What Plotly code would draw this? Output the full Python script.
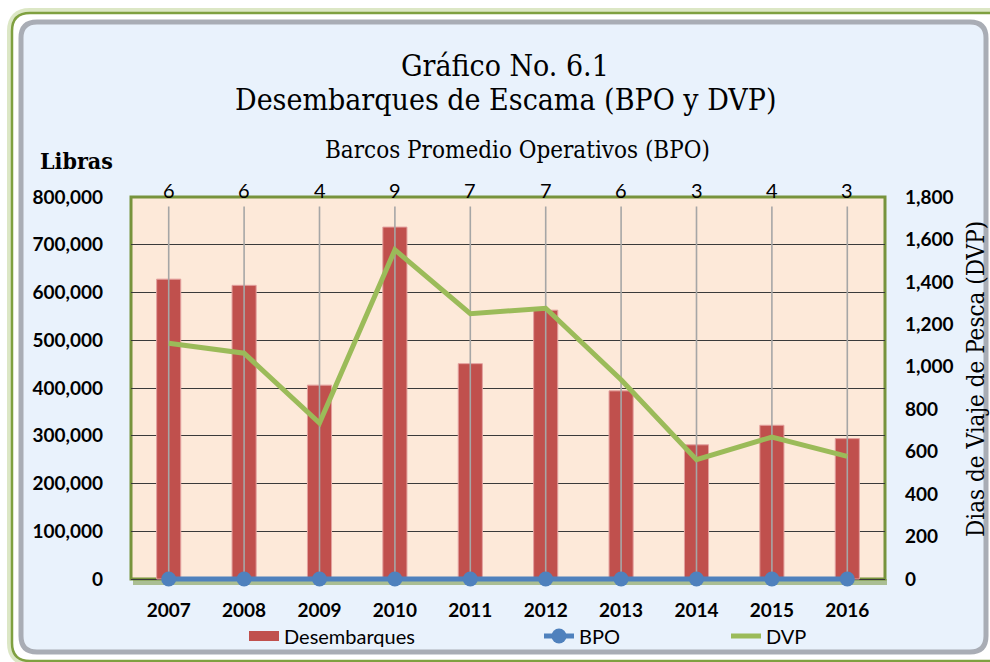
import plotly.graph_objects as go

# ---- data ----
years = ["2007", "2008", "2009", "2010", "2011", "2012", "2013", "2014", "2015", "2016"]
desembarques = [628000, 615000, 406000, 737000, 451000, 563000, 394000, 281000, 322000, 294000]
bpo = [6, 6, 4, 9, 7, 7, 6, 3, 4, 3]
dvp = [1111, 1064, 735, 1551, 1250, 1276, 939, 562, 669, 578]

left_ticks = [0, 100000, 200000, 300000, 400000, 500000, 600000, 700000, 800000]
right_ticks = [0, 200, 400, 600, 800, 1000, 1200, 1400, 1600, 1800]

xpos = list(range(len(years)))  # category slots

# ---- geometry helpers (pixel -> paper) ----
FW, FH = 990, 662
L, R, T = 131, 885, 197
ZERO = 579          # pixel row of the value 0
B = ZERO + 4        # plot area extends a little below 0 so the BPO line is not clipped
PW, PH = R - L, B - T
EXT = (B - ZERO) / (ZERO - T)  # fraction of range below zero


def fx(px):
    return (px - L) / PW


def fy(py):
    return (B - py) / PH


def rrect(x0, y0, x1, y1, r):
    def P(x, y):
        return f"{fx(x):.5f},{fy(y):.5f}"
    return (f"M {P(x0 + r, y0)} L {P(x1 - r, y0)} Q {P(x1, y0)} {P(x1, y0 + r)} "
            f"L {P(x1, y1 - r)} Q {P(x1, y1)} {P(x1 - r, y1)} "
            f"L {P(x0 + r, y1)} Q {P(x0, y1)} {P(x0, y1 - r)} "
            f"L {P(x0, y0 + r)} Q {P(x0, y0)} {P(x0 + r, y0)} Z")


SANS = "Lato"
SERIF = "DejaVu Serif Condensed, DejaVu Serif, serif"
RED, BLUE, GREEN = "#C0504D", "#4F81BD", "#9BBB59"

fig = go.Figure()

fig.add_trace(go.Bar(
    x=xpos, y=desembarques, name="Desembarques",
    marker=dict(color=RED, line=dict(color="#E3A19F", width=1)),
    width=0.32, yaxis="y", showlegend=False,
))
# legend entry for the bars (wide rectangle like the original key)
fig.add_trace(go.Scatter(
    x=[None], y=[None], mode="lines", name="Desembarques",
    line=dict(color=RED, width=14), legend="legend", hoverinfo="skip",
))

# gray drop lines from each BPO point (error bars of an invisible trace)
LINE_TOP = 780000
fig.add_trace(go.Scatter(
    x=xpos, y=[0] * len(xpos), mode="markers", marker=dict(size=1, opacity=0),
    error_y=dict(type="data", symmetric=False, array=[LINE_TOP] * len(xpos),
                 arrayminus=[0] * len(xpos), color="#A6A6A6", thickness=1.6, width=0),
    showlegend=False, hoverinfo="skip", yaxis="y",
))

fig.add_trace(go.Scatter(
    x=xpos, y=dvp, name="DVP", mode="lines",
    line=dict(color=GREEN, width=5), yaxis="y2", legend="legend3",
))

fig.add_trace(go.Scatter(
    x=xpos, y=bpo, name="BPO", mode="lines+markers",
    line=dict(color=BLUE, width=5),
    marker=dict(color=BLUE, size=15), yaxis="y", legend="legend2",
    cliponaxis=False,
))

shapes = [
    dict(type="path", xref="paper", yref="paper", layer="below",
         path=rrect(12, 13, 1010, 661, 18),
         line=dict(color="rgba(155,187,89,0.35)", width=10), fillcolor="rgba(0,0,0,0)"),
    dict(type="path", xref="paper", yref="paper", layer="below",
         path=rrect(12, 13, 1010, 661, 18),
         line=dict(color="#7FA040", width=2.5), fillcolor="#FFFFFF"),
    dict(type="path", xref="paper", yref="paper", layer="below",
         path=rrect(21, 22, 986, 652, 16),
         line=dict(color="#A9ADB5", width=5), fillcolor="#E9F2FC"),
    dict(type="rect", xref="paper", yref="paper", layer="below",
         x0=0, x1=1, y0=fy(ZERO), y1=1, line=dict(width=0), fillcolor="#FDE9D9"),
    dict(type="rect", xref="paper", yref="paper", layer="below",
         x0=fx(L + 2), x1=fx(R + 2), y0=fy(ZERO + 6), y1=fy(ZERO),
         line=dict(width=0), fillcolor="rgba(119,147,60,0.55)"),
    dict(type="rect", xref="paper", yref="paper", layer="below",
         x0=0, x1=1, y0=fy(ZERO), y1=1, line=dict(color="#77933C", width=3),
         fillcolor="rgba(0,0,0,0)"),
]

annotations = [
    dict(text="Gráfico No. 6.1", x=fx(505), y=fy(66), xref="paper", yref="paper",
         showarrow=False, font=dict(family=SERIF, size=30, color="#000000"),
         xanchor="center", yanchor="middle"),
    dict(text="Desembarques de Escama (BPO y DVP)", x=fx(505), y=fy(99), xref="paper",
         yref="paper", showarrow=False, font=dict(family=SERIF, size=30, color="#000000"),
         xanchor="center", yanchor="middle"),
    dict(text="Barcos Promedio Operativos (BPO)", x=fx(517), y=fy(150), xref="paper",
         yref="paper", showarrow=False, font=dict(family=SERIF, size=24, color="#000000"),
         xanchor="center", yanchor="middle"),
    dict(text="<b>Libras</b>", x=fx(76), y=fy(160), xref="paper", yref="paper",
         showarrow=False, font=dict(family=SERIF, size=23, color="#000000"),
         xanchor="center", yanchor="middle"),
    dict(text="Dias de Viaje de Pesca (DVP)", x=fx(976), y=fy(379), xref="paper",
         yref="paper", showarrow=False, textangle=-90,
         font=dict(family=SERIF, size=24, color="#000000"),
         xanchor="center", yanchor="middle"),
]
for i, v in zip(xpos, bpo):
    annotations.append(dict(
        text=str(v), x=i, xref="x", y=fy(190), yref="paper", showarrow=False,
        font=dict(family=SANS, size=20, color="#000000"),
        xanchor="center", yanchor="middle"))

tickfont = dict(family=SANS, size=19, color="#000000", weight="bold")
legfont = dict(family=SANS, size=20, color="#000000")


def leg(px):
    return dict(orientation="h", x=px / FW, xref="container",
                y=(FH - 636) / FH, yref="container", xanchor="left", yanchor="middle",
                bgcolor="rgba(0,0,0,0)", font=legfont, itemwidth=30)


fig.update_layout(
    width=FW, height=FH,
    margin=dict(l=L, r=FW - R, t=T, b=FH - B, pad=0, autoexpand=False),
    paper_bgcolor="#FFFFFF",
    plot_bgcolor="rgba(0,0,0,0)",
    xaxis=dict(range=[-0.5, len(years) - 0.5], tickvals=xpos, ticktext=years,
               showgrid=False, showline=False, ticks="", tickfont=tickfont,
               ticklabelstandoff=14, zeroline=False, automargin=False),
    yaxis=dict(range=[-max(left_ticks) * EXT, max(left_ticks)], tickvals=left_ticks,
               tickformat=",", showgrid=True, gridcolor="#3A3A3A", gridwidth=1,
               showline=False, ticks="", zeroline=False, automargin=False,
               tickfont=tickfont, ticklabelstandoff=27),
    yaxis2=dict(range=[-max(right_ticks) * EXT, max(right_ticks)], tickvals=right_ticks,
                tickformat=",", overlaying="y", side="right", showgrid=False,
                showline=False, ticks="", zeroline=False, tickfont=tickfont,
                ticklabelstandoff=19, automargin=False),
    legend=leg(244),
    legend2=leg(539),
    legend3=leg(726),
    shapes=shapes,
    annotations=annotations,
    showlegend=True,
)

fig.write_html(
    "out.html",
    config={"displayModeBar": False},
    post_script="document.body.style.margin='0';document.body.style.overflow='hidden';",
)
